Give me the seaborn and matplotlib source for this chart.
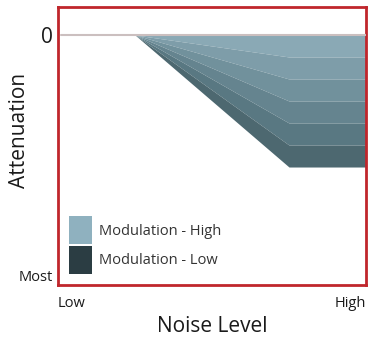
import numpy as np
import pandas as pd
import matplotlib
matplotlib.use("Agg")
import matplotlib.pyplot as plt
import seaborn as sns
from matplotlib.patches import Patch

sns.set_theme(style="white")
plt.rcParams['font.family'] = ['Open Sans', 'DejaVu Sans']

# Data
noise_x = [25, 75, 100]            # start of attenuation, knee, High end
band_levels = [-1, -2, -3, -4, -5, -6]   # attenuation at full noise per modulation band
band_colors = ["#8aa9b5", "#7e9da9", "#71919c", "#65848f", "#597882", "#4d6870"]
legend_labels = ["Modulation - High", "Modulation - Low"]
legend_colors = ["#8fb1bf", "#2b3d43"]
x_ticks = [0, 100]
x_ticklabels = ["Low", "High"]
y_ticks = [0, -11.36]
y_ticklabels = ["0", "Most"]

fig = plt.figure(figsize=(3.75, 3.47), dpi=100)
ax = fig.add_axes([58/375, 1-285/347, 308/375, 278/347])

xs = [0] + noise_x
# gray zero line
sns.lineplot(x=[1, 100], y=[0, 0], ax=ax, color="#cbbfbf", lw=1.5, zorder=3)

prev = np.zeros(len(xs))
for lvl, c in zip(band_levels, band_colors):
    cur = np.array([0, 0, lvl, lvl])
    ax.fill_between(xs, prev, cur, color=c, lw=0, zorder=2)
    prev = cur

ax.set_xlim(0, 100)
ax.set_ylim(-11.36, 1.27)
ax.set_xticks(x_ticks)
ax.set_xticklabels(x_ticklabels, fontsize=10.5, color="#1a1a1a")
ax.get_xticklabels()[0].set_ha("left")
ax.get_xticklabels()[1].set_ha("right")
ax.set_yticks(y_ticks)
ax.set_yticklabels(y_ticklabels, color="#1a1a1a")
ax.get_yticklabels()[0].set_fontsize(15)
ax.get_yticklabels()[1].set_fontsize(10.5)
ax.get_yticklabels()[1].set_va("bottom")
ax.tick_params(length=0, pad=4)
ax.tick_params(axis="x", pad=8)

for s in ax.spines.values():
    s.set_color("#c0262c")
    s.set_linewidth(2)

ax.set_xlabel("Noise Level", fontsize=15, color="#1a1a1a")
ax.set_ylabel("Attenuation", fontsize=15, color="#1a1a1a")
ax.xaxis.set_label_coords(0.5, -0.11)
ax.yaxis.set_label_coords(-0.09, 0.556)

handles = [Patch(facecolor=c, edgecolor="none") for c in legend_colors]
leg = ax.legend(handles, legend_labels, loc="lower left", frameon=False,
                fontsize=10.5, handlelength=1.6, handleheight=2.6,
                handletextpad=0.45, labelspacing=0.1, borderaxespad=0.0,
                borderpad=0.0, bbox_to_anchor=(0.035, 0.04))
for t in leg.get_texts():
    t.set_color("#333333")

fig.savefig("out.png", dpi=100)
